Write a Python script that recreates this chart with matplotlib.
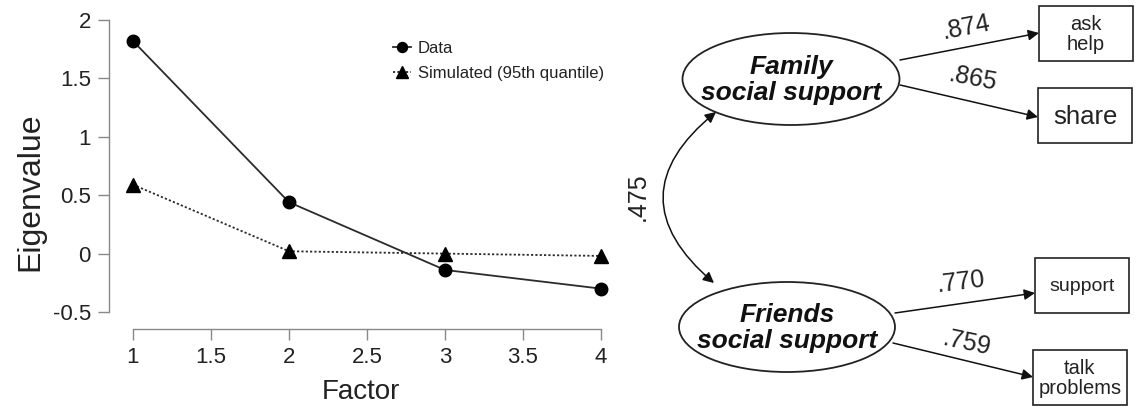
import matplotlib
matplotlib.use("Agg")
import matplotlib.pyplot as plt
from matplotlib.patches import Ellipse, Rectangle, FancyArrowPatch

plt.rcParams['font.family'] = ['Liberation Sans', 'DejaVu Sans']

# ---- data ----
factors = [1, 2, 3, 4]
data_eig = [1.82, 0.44, -0.14, -0.30]
sim_eig = [0.59, 0.02, 0.00, -0.02]
legend_labels = ["Data", "Simulated (95th quantile)"]
xticks = [1, 1.5, 2, 2.5, 3, 3.5, 4]
xtick_labels = ["1", "1.5", "2", "2.5", "3", "3.5", "4"]
yticks = [-0.5, 0, 0.5, 1, 1.5, 2]
ytick_labels = ["-0.5", "0", "0.5", "1", "1.5", "2"]

latent_names = ["Family\nsocial support", "Friends\nsocial support"]
indicator_names = ["ask\nhelp", "share", "support", "talk\nproblems"]
loadings = [".874", ".865", ".770", ".759"]
correlation = ".475"

W, H = 1139, 409
fig = plt.figure(figsize=(W / 100, H / 100), dpi=100)

# ---- left: scree plot ----
ax_l, ax_r, ax_t, ax_b = 109, 612, 10, 329
ax = fig.add_axes([ax_l / W, 1 - ax_b / H, (ax_r - ax_l) / W, (ax_b - ax_t) / H])
xp1, xp4 = 133, 601
ppu_x = (xp4 - xp1) / 3
ax.set_xlim(1 - (xp1 - ax_l) / ppu_x, 4 + (ax_r - xp4) / ppu_x)
yp2, ypm = 20, 312
ppu_y = (ypm - yp2) / 2.5
ax.set_ylim(-0.5 - (ax_b - ypm) / ppu_y, 2 + (yp2 - ax_t) / ppu_y)

col = "#2b2b2b"
ax.plot(factors, data_eig, color=col, lw=1.3, ls='-', marker='o', ms=9,
        mfc='black', mec='black', label=legend_labels[0], zorder=3)
ax.plot(factors, sim_eig, color=col, lw=1.3, ls=(0, (1.2, 1.2)), marker='^', ms=10,
        mfc='black', mec='black', label=legend_labels[1], zorder=3)

for s in ['top', 'right']:
    ax.spines[s].set_visible(False)
ax.spines['left'].set_bounds(-0.5, 2)
ax.spines['bottom'].set_bounds(1, 4)
for s in ['left', 'bottom']:
    ax.spines[s].set_color('#888888')
    ax.spines[s].set_linewidth(1.0)
ax.set_xticks(xticks, xtick_labels)
ax.set_yticks(yticks, ytick_labels)
ax.tick_params(axis='both', length=8, width=1.0, color='#888888', labelsize=16,
               labelcolor='#222222', pad=5)
ax.set_xlabel("Factor", fontsize=20, color='#222222', labelpad=8)
ax.set_ylabel("Eigenvalue", fontsize=23, color='#222222')
ax.yaxis.set_label_coords(-(109 - 45) / (ax_r - ax_l), (ax_b - 192) / (ax_b - ax_t))
ax.patch.set_alpha(0)

leg = ax.legend(loc='upper left', bbox_to_anchor=(393 / W, 1 - 41 / H),
                bbox_transform=fig.transFigure, frameon=False, fontsize=12,
                handlelength=1.1, handletextpad=0.4, labelspacing=0.6,
                markerscale=0.8, borderaxespad=0, borderpad=0)
for t in leg.get_texts():
    t.set_color('#222222')

# ---- right: path diagram (pixel coordinates) ----
dx = fig.add_axes([0, 0, 1, 1])
dx.set_xlim(0, W)
dx.set_ylim(H, 0)
dx.axis('off')
dx.patch.set_alpha(0)

ell_centers = [(791, 79), (787, 327)]
ell_sizes = [(217, 92), (216, 90)]
for (cx, cy), (ew, eh), name in zip(ell_centers, ell_sizes, latent_names):
    dx.add_patch(Ellipse((cx, cy), ew, eh, fill=False, ec='#222222', lw=1.3))
    dx.text(cx, cy + 1, name, ha='center', va='center', fontsize=19,
            fontweight='bold', fontstyle='italic', color='#111111', linespacing=1.1)

boxes = [(1039, 6, 94, 55), (1038, 88, 94, 55), (1035, 258, 94, 55), (1033, 350, 94, 55)]
box_fs = [14.5, 18.5, 14, 14.5]
for (bx, by, bw, bh), name, fs in zip(boxes, indicator_names, box_fs):
    dx.add_patch(Rectangle((bx, by), bw, bh, fill=False, ec='#222222', lw=1.2))
    dx.text(bx + bw / 2, by + bh / 2 + 1, name, ha='center', va='center',
            fontsize=fs, color='#222222', linespacing=1.05)

arrows = [((900, 60), (1039, 33)), ((900, 85), (1038, 117)),
          ((895, 313), (1035, 293)), ((893, 343), (1033, 377))]
lab_pos = [(966, 27), (973, 79), (961, 282), (967, 343)]
lab_rot = [11, -11, 7, -12]
for (p0, p1), lab, pos, rot in zip(arrows, loadings, lab_pos, lab_rot):
    dx.add_patch(FancyArrowPatch(p0, p1, arrowstyle='-|>', mutation_scale=16,
                                 color='#111111', lw=1.1, shrinkA=0, shrinkB=0))
    dx.text(pos[0], pos[1], lab, ha='center', va='center', fontsize=18,
            rotation=rot, color='#222222')

dx.add_patch(FancyArrowPatch((716, 112), (714, 283), arrowstyle='<|-|>',
                             mutation_scale=16, color='#111111', lw=1.1,
                             connectionstyle='arc3,rad=0.6', shrinkA=0, shrinkB=0))
dx.text(638, 197, correlation, ha='center', va='center', fontsize=18,
        rotation=90, color='#222222')

fig.savefig("out.png", dpi=100)
